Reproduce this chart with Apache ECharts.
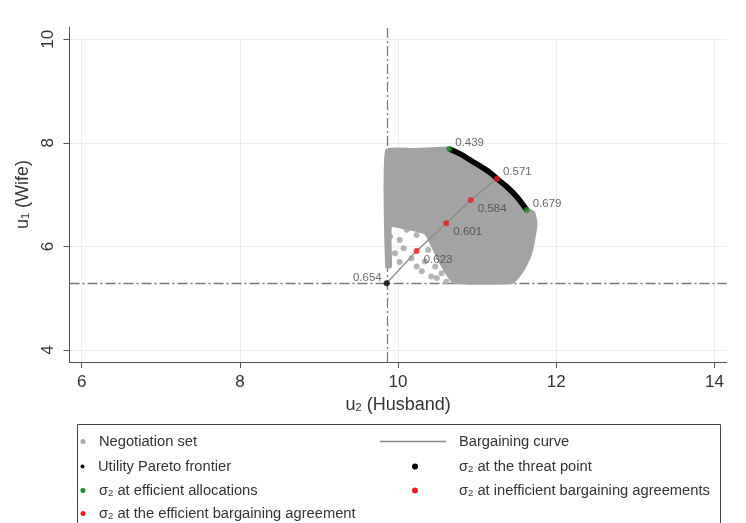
<!DOCTYPE html>
<html>
<head>
<meta charset="utf-8">
<script src="https://cdn.jsdelivr.net/npm/echarts@6/dist/echarts.min.js"></script>
<style>html,body{margin:0;padding:0;background:#fff}#c{width:746px;height:523px}</style>
</head>
<body>
<div id="c"></div>
<script>
// ---- data ----
const X_TICKS = [6, 8, 10, 12, 14];
const Y_TICKS = [4, 6, 8, 10];
const X_MIN = 5.846, X_MAX = 14.155;
const Y_MIN = 3.768, Y_MAX = 10.237;

// Negotiation set: outline of the dense cloud (u2, u1)
const NEG_U2 = [9.85, 10.2, 10.5, 10.66, 10.79, 10.92, 11.04, 11.17, 11.26, 11.38, 11.51, 11.64, 11.72, 11.75, 11.72, 11.67, 11.58, 11.45, 10.70, 10.61, 10.51, 10.43, 10.34, 10.07, 9.91, 9.91, 9.85];
const NEG_U1 = [7.86, 7.88, 7.90, 7.91, 7.82, 7.70, 7.58, 7.45, 7.33, 7.18, 6.99, 6.73, 6.66, 6.45, 6.12, 5.80, 5.53, 5.30, 5.30, 5.48, 5.74, 6.00, 6.25, 6.35, 6.38, 5.60, 5.60];
// Negotiation set: isolated points in the lower-left gap
const NEG_DOT_U2 = [10.02, 9.96, 10.17, 10.34, 10.235, 10.47, 10.55, 10.49, 10.61, 10.11, 10.235, 9.90, 10.07, 10.38, 10.42, 10.30, 10.02];
const NEG_DOT_U1 = [6.125, 5.87, 5.77, 5.71, 5.61, 5.61, 5.48, 5.39, 5.32, 6.32, 6.22, 6.19, 5.965, 5.93, 5.42, 5.52, 5.70];

// Utility Pareto frontier
const PARETO_U2 = [10.647, 10.783, 10.909, 11.035, 11.162, 11.25, 11.373, 11.499, 11.626];
const PARETO_U1 = [7.882, 7.786, 7.670, 7.554, 7.425, 7.309, 7.155, 6.961, 6.705];

// Bargaining curve
const CURVE_U2 = [9.856, 10.235, 10.61, 10.92, 11.25];
const CURVE_U1 = [5.29, 5.913, 6.448, 6.898, 7.309];

// sigma2 points
const THREAT_U2 = [9.856], THREAT_U1 = [5.29], THREAT_SIGMA = ['0.654'];
const EFFALLOC_U2 = [10.647, 11.626], EFFALLOC_U1 = [7.882, 6.705], EFFALLOC_SIGMA = ['0.439', '0.679'];
const INEFF_U2 = [10.92, 10.61, 10.235], INEFF_U1 = [6.898, 6.448, 5.913], INEFF_SIGMA = ['0.584', '0.601', '0.623'];
const EFFBARG_U2 = [11.25], EFFBARG_U1 = [7.309], EFFBARG_SIGMA = ['0.571'];

const L_NEG = 'Negotiation set';
const L_CURVE = 'Bargaining curve';
const L_PARETO = 'Utility Pareto frontier';
const L_THREAT = 'σ2 at the threat point';
const L_EFFALLOC = 'σ2 at efficient allocations';
const L_INEFF = 'σ2 at inefficient bargaining agreements';
const L_EFFBARG = 'σ2 at the efficient bargaining agreement';

// ---- build ----
const FONT = 'Liberation Sans, Arial, Helvetica, sans-serif';
const zip = (a, b, c) => a.map((v, i) => c ? [v, b[i], c[i]] : [v, b[i]]);
const GRAY = '#a3a3a3';
const GREEN = '#1f8a2a';
const RED = '#ee1c1c';
const TXT = '#333';

const chart = echarts.init(document.getElementById('c'), null, {renderer: 'canvas'});

const ptLabel = (pos, offset) => ({
  show: true, position: pos, offset: offset, distance: 4,
  formatter: p => p.value[2], fontSize: 11.5, color: '#444', fontFamily: FONT
});

const FS = 14.7;
function dotRich(color, size) {
  return {width: size, height: size, borderRadius: size / 2, backgroundColor: color, verticalAlign: 'middle'};
}
// legend entry: invisible rect icon, marker drawn as rich-text token
function leg(name, left, cy, opts) {
  const rich = {
    sub: {fontSize: 9.5, verticalAlign: 'bottom', color: TXT, fontFamily: FONT},
    a: {width: opts.a || 0, height: 1},
    d: dotRich(opts.color || '#000', opts.size || 5),
    b: {width: opts.b || 0, height: 1}
  };
  return {
    data: [{name: name, icon: 'rect'}], left: left, top: cy - 6,
    itemWidth: opts.iw, itemHeight: opts.ih || 1, selectedMode: false, padding: 0,
    itemStyle: {opacity: opts.lineIcon ? 1 : 0},
    formatter: n => (opts.lineIcon ? '{b|}' : '{a|}{d|}{b|}') + n.replace('σ2', 'σ{sub|2}'),
    textStyle: {fontSize: FS, color: TXT, fontFamily: FONT, rich: rich}
  };
}
const ROWS = [440, 465, 489, 512];
const LC = {iw: 8, a: 7.5, b: 13.5};
const RC = {iw: 8, a: 19, b: 41};

const option = {
  animation: false,
  backgroundColor: '#fff',
  textStyle: {fontFamily: FONT},
  grid: {left: 69.5, right: 19.3, top: 27, bottom: 161, containLabel: false},
  xAxis: {
    type: 'value', min: X_MIN, max: X_MAX,
    name: '{t|u}{s|2}{t| (Husband)}', nameLocation: 'middle', nameGap: 31,
    nameTextStyle: {color: TXT, fontFamily: FONT, rich: {t: {fontSize: 18, color: TXT, fontFamily: FONT}, s: {fontSize: 11, color: TXT, verticalAlign: 'bottom', fontFamily: FONT}}},
    axisLine: {show: true, lineStyle: {color: '#555', width: 1}},
    axisTick: {show: true, length: 6, lineStyle: {color: '#555'}, customValues: X_TICKS},
    axisLabel: {customValues: X_TICKS, fontSize: 17, color: TXT, margin: 12, fontFamily: FONT},
    splitLine: {show: false}
  },
  yAxis: {
    type: 'value', min: Y_MIN, max: Y_MAX,
    name: '{t|u}{s|1}{t| (Wife)}', nameLocation: 'middle', nameGap: 26,
    nameTextStyle: {color: TXT, fontFamily: FONT, rich: {t: {fontSize: 18, color: TXT, fontFamily: FONT}, s: {fontSize: 11, color: TXT, verticalAlign: 'bottom', fontFamily: FONT}}},
    axisLine: {show: true, lineStyle: {color: '#555', width: 1}},
    axisTick: {show: true, length: 6, lineStyle: {color: '#555'}, customValues: Y_TICKS},
    axisLabel: {customValues: Y_TICKS, fontSize: 17, color: TXT, margin: 13, rotate: 90, fontFamily: FONT},
    splitLine: {show: false}
  },
  legend: [
    leg(L_NEG, 60, ROWS[0], Object.assign({color: '#aaaaaa', size: 5}, LC)),
    leg(L_PARETO, 60, ROWS[1], Object.assign({color: '#000', size: 4}, LC)),
    leg(L_EFFALLOC, 60, ROWS[2], Object.assign({color: GREEN, size: 5}, LC)),
    leg(L_EFFBARG, 60, ROWS[3], Object.assign({color: RED, size: 5}, LC)),
    leg(L_CURVE, 380, ROWS[0], {iw: 66, ih: 1.5, lineIcon: true, b: 8}),
    leg(L_THREAT, 380, ROWS[1], Object.assign({color: '#000', size: 6}, RC)),
    leg(L_INEFF, 380, ROWS[2], Object.assign({color: RED, size: 6}, RC))
  ],
  graphic: [{
    type: 'rect', shape: {x: 77.5, y: 424.5, width: 643, height: 110},
    style: {fill: 'none', stroke: '#444', lineWidth: 1}, silent: true, z: -1
  }],
  series: [
    { // grid lines
      type: 'line', data: [], silent: true, z: 0,
      markLine: {
        silent: true, symbol: 'none', label: {show: false}, z: 0,
        lineStyle: {color: '#e8edf1', width: 1, type: 'solid'},
        data: X_TICKS.map(v => [{coord: [v, Y_MIN]}, {coord: [v, Y_TICKS[Y_TICKS.length - 1]]}])
          .concat(Y_TICKS.map(v => [{coord: [X_MIN, v]}, {coord: [X_MAX, v]}]))
      }
    },
    { // threat point reference lines
      type: 'line', data: [], silent: true, z: 1,
      markLine: {
        silent: true, symbol: 'none', label: {show: false}, z: 1,
        lineStyle: {color: '#7a7a7a', width: 1.3, type: [10, 3, 2, 3]},
        data: [{xAxis: THREAT_U2[0]}, {yAxis: THREAT_U1[0]}]
      }
    },
    {
      name: L_NEG, type: 'custom', z: 2, silent: true,
      itemStyle: {color: GRAY},
      data: zip(NEG_U2, NEG_U1),
      renderItem: function (params, api) {
        if (params.dataIndex !== 0) return null;
        const pts = NEG_U2.map((u, i) => api.coord([u, NEG_U1[i]]));
        return {type: 'polygon', shape: {points: pts, smooth: 0.15}, style: {fill: GRAY, stroke: GRAY, lineWidth: 2}};
      }
    },
    {
      name: L_NEG, type: 'scatter', z: 2, silent: true,
      symbolSize: 6, itemStyle: {color: GRAY},
      data: zip(NEG_DOT_U2, NEG_DOT_U1)
    },
    {
      name: L_CURVE, type: 'line', z: 3, silent: true,
      showSymbol: false, symbol: 'none',
      lineStyle: {color: '#8a8a8a', width: 1.3}, itemStyle: {color: '#8a8a8a'},
      data: zip(CURVE_U2, CURVE_U1)
    },
    {
      name: L_PARETO, type: 'line', z: 4, silent: true,
      showSymbol: false, symbol: 'none', smooth: 0.3,
      lineStyle: {color: '#000', width: 5.5}, itemStyle: {color: '#000'},
      data: zip(PARETO_U2, PARETO_U1)
    },
    {
      name: L_THREAT, type: 'scatter', z: 5, silent: true,
      symbolSize: 6, itemStyle: {color: '#000'},
      label: ptLabel('left', [2, -5]),
      data: zip(THREAT_U2, THREAT_U1, THREAT_SIGMA)
    },
    {
      name: L_EFFALLOC, type: 'scatter', z: 5, silent: true,
      symbolSize: 6, itemStyle: {color: GREEN},
      label: ptLabel('right', [-1, -6]),
      data: zip(EFFALLOC_U2, EFFALLOC_U1, EFFALLOC_SIGMA)
    },
    {
      name: L_INEFF, type: 'scatter', z: 5, silent: true,
      symbolSize: 6, itemStyle: {color: RED},
      label: ptLabel('right', [0, 9]),
      data: zip(INEFF_U2, INEFF_U1, INEFF_SIGMA)
    },
    {
      name: L_EFFBARG, type: 'scatter', z: 5, silent: true,
      symbolSize: 6, itemStyle: {color: RED},
      label: ptLabel('right', [-1, -7]),
      data: zip(EFFBARG_U2, EFFBARG_U1, EFFBARG_SIGMA)
    }
  ]
};
chart.setOption(option);
</script>
</body>
</html>
